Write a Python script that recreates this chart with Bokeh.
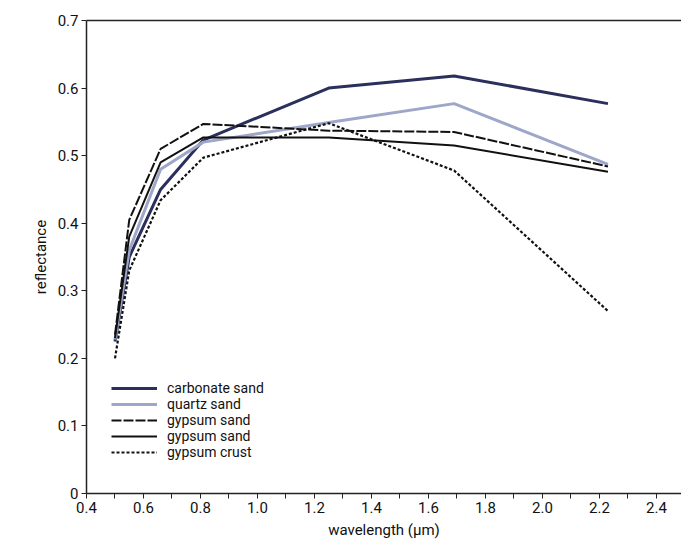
from bokeh.plotting import figure
from bokeh.models import LinearAxis, FixedTicker, Legend, LegendItem, Range1d
from bokeh.embed import file_html
from bokeh.resources import INLINE

# ---- data ----
wavelength = [0.50, 0.55, 0.66, 0.81, 1.25, 1.69, 2.23]
carbonate_sand = [0.225, 0.350, 0.450, 0.523, 0.600, 0.618, 0.577]
quartz_sand = [0.228, 0.360, 0.480, 0.520, 0.549, 0.577, 0.487]
gypsum_sand_1 = [0.235, 0.405, 0.510, 0.547, 0.537, 0.535, 0.484]
gypsum_sand_2 = [0.230, 0.380, 0.490, 0.527, 0.527, 0.515, 0.476]
gypsum_crust = [0.200, 0.330, 0.434, 0.497, 0.548, 0.478, 0.270]

x_ticks = [0.4, 0.6, 0.8, 1.0, 1.2, 1.4, 1.6, 1.8, 2.0, 2.2, 2.4]
x_tick_labels = ["0.4", "0.6", "0.8", "1.0", "1.2", "1.4", "1.6", "1.8", "2.0", "2.2", "2.4"]
x_minor = [0.5, 0.7, 0.9, 1.1, 1.3, 1.5, 1.7, 1.9, 2.1, 2.3]
y_ticks = [0.0, 0.1, 0.2, 0.3, 0.4, 0.5, 0.6, 0.7]
y_tick_labels = ["0", "0.1", "0.2", "0.3", "0.4", "0.5", "0.6", "0.7"]

FONT = "Roboto"

p = figure(frame_width=595, frame_height=473, output_backend="svg",
           toolbar_location=None, x_range=Range1d(0.4, 2.488), y_range=Range1d(0, 0.7),
           min_border_left=86, min_border_right=0, min_border_top=20, min_border_bottom=54)
p.outline_line_color = None
p.grid.grid_line_color = None
p.background_fill_color = "white"

r1 = p.line(wavelength, carbonate_sand, line_color="#2b2f5c", line_width=3)
r2 = p.line(wavelength, quartz_sand, line_color="#9ea6c9", line_width=3)
r3 = p.line(wavelength, gypsum_sand_1, line_color="#111111", line_width=2, line_dash="10 2")
r4 = p.line(wavelength, gypsum_sand_2, line_color="#111111", line_width=2)
r5 = p.line(wavelength, gypsum_crust, line_color="#111111", line_width=2.2, line_dash="3 2")

xa = p.xaxis[0]
xa.ticker = FixedTicker(ticks=x_ticks, minor_ticks=x_minor)
xa.major_label_overrides = {t: l for t, l in zip(x_ticks, x_tick_labels)}
xa.axis_label = "wavelength (µm)"
ya = p.yaxis[0]
ya.ticker = FixedTicker(ticks=y_ticks)
ya.major_label_overrides = {t: l for t, l in zip(y_ticks, y_tick_labels)}
ya.axis_label = "reflectance"

for ax in (xa, ya):
    ax.axis_line_color = "#222222"
    ax.axis_line_width = 1.5
    ax.major_tick_line_color = "#222222"
    ax.minor_tick_line_color = "#222222"
    ax.major_tick_in = 0
    ax.major_tick_out = 5
    ax.minor_tick_in = 0
    ax.minor_tick_out = 5
    ax.major_label_text_font = FONT
    ax.major_label_text_font_size = "15px"
    ax.major_label_text_color = "#111111"
    ax.axis_label_text_font = FONT
    ax.axis_label_text_font_size = "15px"
    ax.axis_label_text_font_style = "normal"
    ax.axis_label_text_color = "#111111"
    ax.major_label_standoff = 3
    ax.axis_label_standoff = 5

top = LinearAxis(ticker=FixedTicker(ticks=[]), axis_line_color="#222222", axis_line_width=1.5,
                 major_label_text_font_size="0px")
p.add_layout(top, "above")

legend = Legend(items=[
    LegendItem(label="carbonate sand", renderers=[r1]),
    LegendItem(label="quartz sand", renderers=[r2]),
    LegendItem(label="gypsum sand", renderers=[r3]),
    LegendItem(label="gypsum sand", renderers=[r4]),
    LegendItem(label="gypsum crust", renderers=[r5]),
], location=(25, 33))
legend.border_line_color = None
legend.background_fill_alpha = 0
legend.label_text_font = FONT
legend.label_text_font_size = "14px"
legend.label_text_color = "#111111"
legend.glyph_width = 46
legend.glyph_height = 16
legend.label_height = 16
legend.spacing = 0
legend.padding = 2
legend.margin = 0
legend.label_standoff = 10
p.add_layout(legend)

open("out.html", "w").write(file_html(p, INLINE))
